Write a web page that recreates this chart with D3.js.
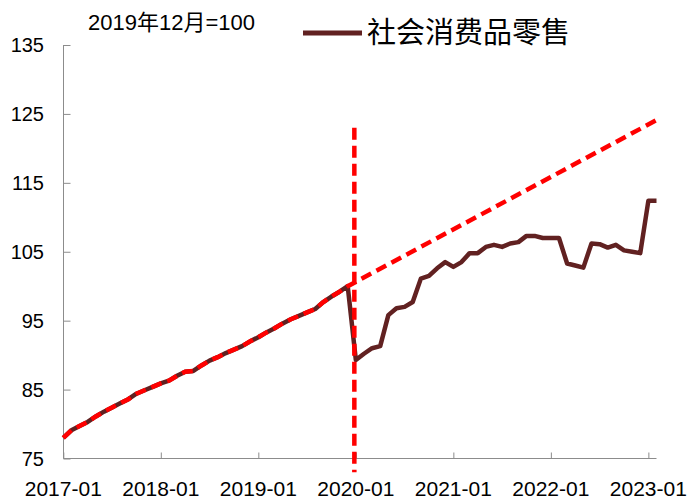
<!DOCTYPE html>
<html lang="zh">
  <head>
    <meta charset="UTF-8" />
    <title>社会消费品零售</title>
    <style>
      body {
        margin: 0;
        padding: 0;
        background: #fff;
      }
      svg text {
        font-family: "Liberation Sans", Arial, "Noto Sans CJK SC", sans-serif;
        fill: #000;
      }
    </style>
  </head>
  <body>
    <svg id="chart"></svg>

    <script src="https://d3js.org/d3.v7.min.js"></script>
    <script>
      // month categories, 2017-01 .. 2023-02
      const months = d3
        .timeMonth.range(new Date(2017, 0, 1), new Date(2023, 2, 1))
        .map(d3.timeFormat("%Y-%m"));

      // 社会消费品零售 index, 2019-12 = 100
      const retail = [
        78.0, 79.1, 79.7, 80.3, 81.1, 81.8, 82.4, 83.0, 83.6, 84.4, 84.9, 85.4,
        85.9, 86.3, 87.0, 87.6, 87.7, 88.5, 89.2, 89.7, 90.3, 90.8, 91.3, 92.0,
        92.6, 93.3, 93.9, 94.6, 95.2, 95.7, 96.2, 96.7, 97.7, 98.5, 99.2, 100.0,
        89.3, 90.2, 91.0, 91.3, 95.8, 96.8, 97.0, 97.7, 101.1, 101.5, 102.6, 103.5,
        102.8, 103.5, 104.8, 104.8, 105.7, 106.0, 105.7, 106.2, 106.4, 107.3, 107.3, 107.0,
        107.0, 107.0, 103.3, 103.0, 102.7, 106.2, 106.1, 105.6, 106.0, 105.2, 105.0, 104.8,
        112.4, 112.4
      ];

      // trend: follows the data up to 2019-12, then extended to 2023-02
      const trendEndMonth = "2023-02";
      const trendEndValue = 124.1;

      // vertical marker at 2020-01
      const markerMonth = "2020-01";
      const markerRange = [73, 123];

      const yTicks = [75, 85, 95, 105, 115, 125, 135];
      const xTicks = ["2017-01", "2018-01", "2019-01", "2020-01", "2021-01", "2022-01", "2023-01"];

      const seriesName = "社会消费品零售";
      const note = "2019年12月=100";

      const width = 700;
      const height = 503;
      const brown = "#612121";
      const red = "#ff0000";
      const axisColor = "#8c8c8c";

      const svg = d3.select("#chart").attr("width", width).attr("height", height);

      const x = d3.scalePoint().domain(months).range([63.3, 656.5]);
      const y = d3.scaleLinear().domain([75, 135]).range([458.5, 45]);

      // y axis
      const yAxis = svg
        .append("g")
        .attr("transform", "translate(63.5,0)")
        .call(d3.axisRight(y).tickValues(yTicks).tickSize(7).tickFormat(""));
      yAxis.select(".domain").attr("stroke", axisColor).attr("d", `M0,${y(135)}V${y(75)}`);
      yAxis.selectAll(".tick line").attr("stroke", axisColor);

      svg
        .append("g")
        .selectAll("text")
        .data(yTicks)
        .enter()
        .append("text")
        .attr("x", 44)
        .attr("y", (d) => y(d))
        .attr("dy", "0.36em")
        .attr("text-anchor", "end")
        .style("font-size", "20px")
        .text((d) => d);

      // x axis
      const xAxis = svg
        .append("g")
        .attr("transform", `translate(0,${y(75)})`)
        .call(d3.axisTop(x).tickValues(xTicks).tickSize(6).tickFormat(""));
      xAxis.select(".domain").attr("stroke", axisColor).attr("d", `M${x("2017-01")},0H${x("2023-02")}`);
      xAxis.selectAll(".tick line").attr("stroke", axisColor);

      svg
        .append("g")
        .selectAll("text")
        .data(xTicks)
        .enter()
        .append("text")
        .attr("x", (d) => x(d))
        .attr("y", 496)
        .attr("text-anchor", "middle")
        .style("font-size", "21px")
        .text((d) => d);

      // retail line
      const line = d3
        .line()
        .x((d) => x(d[0]))
        .y((d) => y(d[1]));

      const retailPts = retail.map((v, i) => [months[i], v]);

      svg
        .append("path")
        .datum(retailPts)
        .attr("fill", "none")
        .attr("stroke", brown)
        .attr("stroke-width", 4.5)
        .attr("stroke-linejoin", "round")
        .attr("d", line);

      // trend dashed line
      const cut = months.indexOf("2019-12");
      const trendPts = retailPts.slice(0, cut + 1).concat([[trendEndMonth, trendEndValue]]);

      svg
        .append("path")
        .datum(trendPts)
        .attr("fill", "none")
        .attr("stroke", red)
        .attr("stroke-width", 4.5)
        .attr("stroke-dasharray", "11,6")
        .attr("d", line);

      // vertical marker
      svg
        .append("line")
        .attr("x1", x(markerMonth) - 1.5)
        .attr("x2", x(markerMonth) - 1.5)
        .attr("y1", y(markerRange[1]))
        .attr("y2", y(markerRange[0]))
        .attr("stroke", red)
        .attr("stroke-width", 4.5)
        .attr("stroke-dasharray", "12,6");

      // note + legend
      svg
        .append("text")
        .attr("x", 88)
        .attr("y", 30)
        .style("font-size", "22px")
        .text(note);

      svg
        .append("line")
        .attr("x1", 303)
        .attr("x2", 362)
        .attr("y1", 33)
        .attr("y2", 33)
        .attr("stroke", brown)
        .attr("stroke-width", 5);

      svg
        .append("text")
        .attr("x", 367)
        .attr("y", 43)
        .style("font-size", "29px")
        .text(seriesName);
    </script>
  </body>
</html>
